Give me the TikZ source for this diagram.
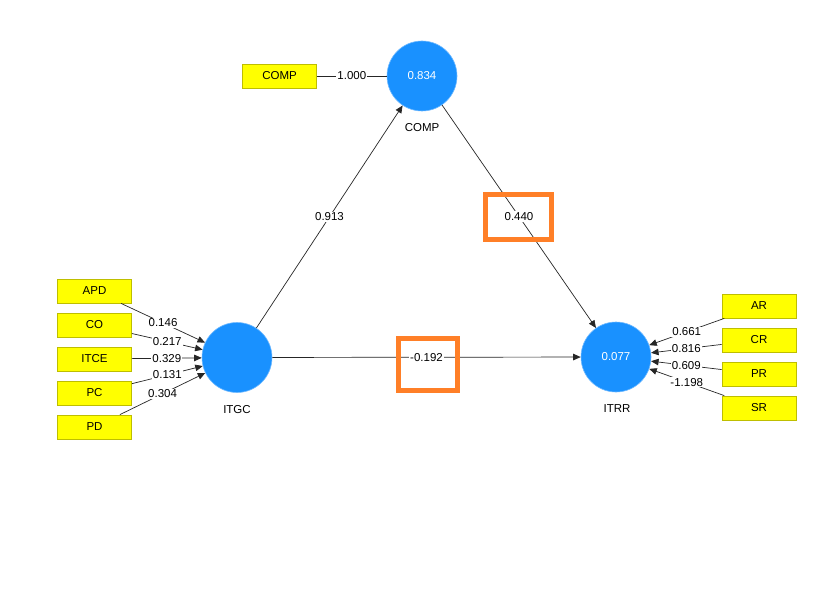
\documentclass[tikz,border=0pt]{standalone}
\usepackage{fontspec}
\setmainfont{Liberation Sans}
\usetikzlibrary{arrows.meta}
\definecolor{lvblue}{RGB}{25,145,255}
\definecolor{lvedge}{RGB}{110,185,255}
\definecolor{mvyellow}{RGB}{255,255,0}
\definecolor{mvedge}{RGB}{190,190,0}
\definecolor{hlorange}{RGB}{255,127,39}

\begin{document}
\begin{tikzpicture}[x=1pt,y=-1pt,
    font=\fontsize{11.5}{13}\selectfont,
    lv/.style={circle,fill=lvblue,draw=lvedge,line width=0.6pt,minimum size=70pt,inner sep=0pt,text=white},
    mv/.style={rectangle,fill=mvyellow,draw=mvedge,line width=0.8pt,minimum width=74pt,minimum height=24pt,inner sep=0pt},
    path/.style={draw=black!85,line width=0.7pt,-{Triangle[length=7.5pt,width=6.5pt]}},
    coef/.style={fill=white,inner sep=1pt,midway},
    hl/.style={draw=hlorange,line width=5pt}]
    \useasboundingbox[fill=white] (0,0) rectangle (835,604);
    % latent variables
    \node[lv] (COMP) at (422,76) {0.834};
    \node[lv] (ITGC) at (237,357.5) {};
    \node[lv] (ITRR) at (616,357) {0.077};
    \node at (422,128) {COMP};
    \node at (237,410) {ITGC};
    \node at (617,409) {ITRR};
    % indicators
    \node[mv] (compind) at (279.5,76) {COMP};
    \node[mv] (APD) at (94.5,291) {APD};
    \node[mv] (CO) at (94.5,325) {CO};
    \node[mv] (ITCE) at (94.5,359) {ITCE};
    \node[mv] (PC) at (94.5,393) {PC};
    \node[mv] (PD) at (94.5,427) {PD};
    \node[mv] (AR) at (759,306) {AR};
    \node[mv] (CR) at (759,340) {CR};
    \node[mv] (PR) at (759,374) {PR};
    \node[mv] (SR) at (759,408) {SR};
    % outer weights
    \draw[draw=black!85,line width=0.7pt] (compind) -- node[coef] {1.000} (COMP);
    \draw[path] (APD) -- node[coef] {0.146} (ITGC);
    \draw[path] (CO) -- node[coef] {0.217} (ITGC);
    \draw[path] (ITCE) -- node[coef] {0.329} (ITGC);
    \draw[path] (PC) -- node[coef] {0.131} (ITGC);
    \draw[path] (PD) -- node[coef] {0.304} (ITGC);
    \draw[path] (AR) -- node[coef] {0.661} (ITRR);
    \draw[path] (CR) -- node[coef] {0.816} (ITRR);
    \draw[path] (PR) -- node[coef] {0.609} (ITRR);
    \draw[path] (SR) -- node[coef] {-1.198} (ITRR);
    % inner model
    \draw[path] (ITGC) -- node[coef] {0.913} (COMP);
    \draw[path] (COMP) -- node[coef] {0.440} (ITRR);
    \draw[path] (ITGC) -- node[coef] {-0.192} (ITRR);
    % highlights
    \draw[hl] (485.5,194.5) rectangle (551.5,239.5);
    \draw[hl] (398.5,338.5) rectangle (457.5,390.5);
\end{tikzpicture}
\end{document}
